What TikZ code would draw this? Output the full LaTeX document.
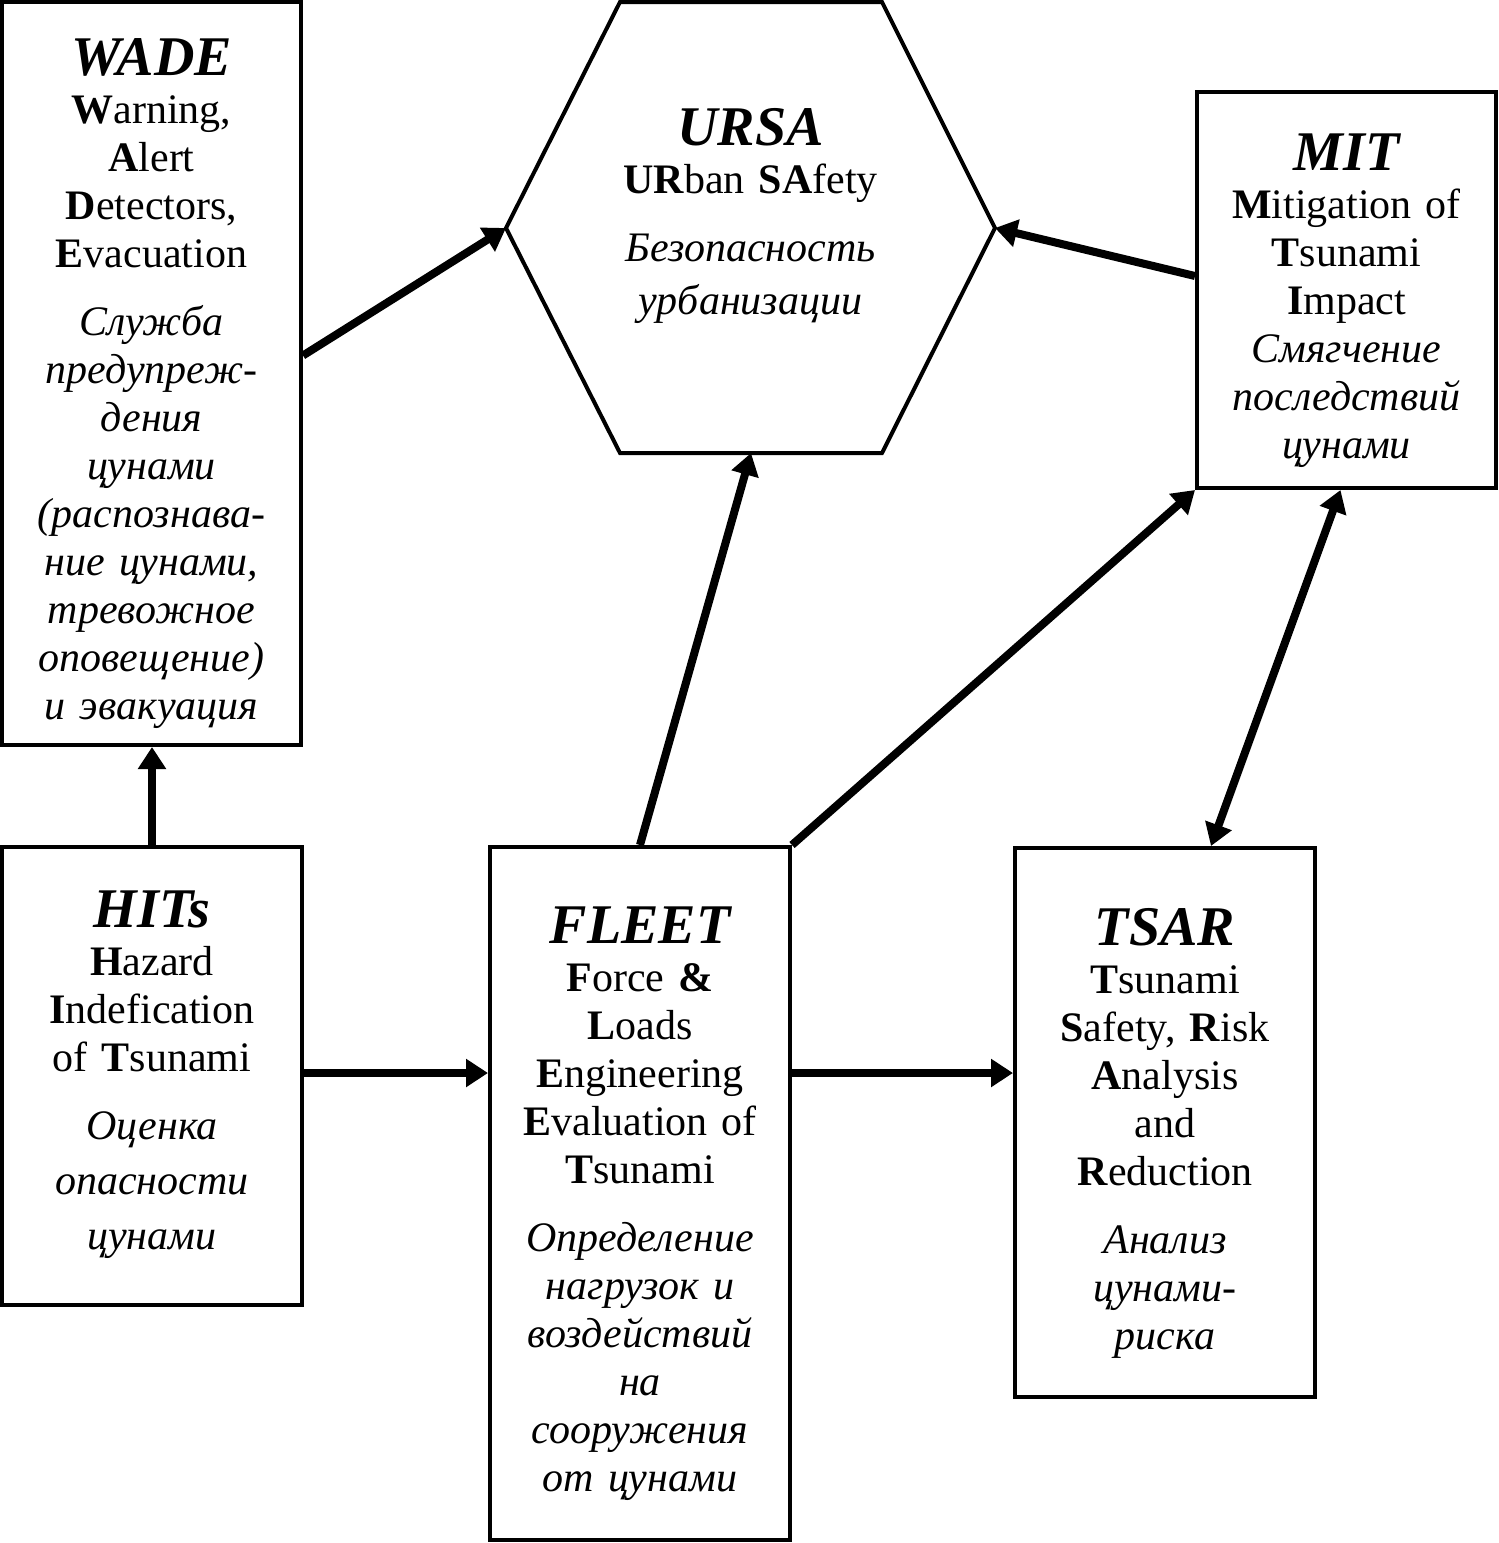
\documentclass[tikz,border=0pt]{standalone}
\usepackage{fontspec}
\setmainfont{Liberation Serif}
\usetikzlibrary{arrows.meta,calc}

\newcommand{\boxtitle}[1]{{\fontsize{28}{30}\selectfont\bfseries\itshape\rule{0pt}{29pt}#1}}

\tikzset{
	block/.style={draw, line width=2pt, align=center, text width=140pt, inner sep=0pt, font=\fontsize{21}{24}\selectfont},
	link/.style={line width=4pt, ->},
	twoway/.style={line width=4pt, <->},
	>={Triangle[length=11pt,width=13.5pt]}
}

\begin{document}
\begin{tikzpicture}[x=0.5pt, y=-0.5pt]
			\useasboundingbox (0,0) rectangle (1499,1543);

			% boxes
			\node[block, minimum width=149.5pt, minimum height=371.5pt](wade) at (151.5,373.5)
			{
				\boxtitle{WADE}\\
				\textbf{W}arning,\\
				\textbf{A}lert\\
				\textbf{D}etectors,\\
				\textbf{E}vacuation\\[10pt]
				\itshape Служба\\
				предупреж-\\
				дения\\
				цунами\\
				(распознава-\\
				ние цунами,\\
				тревожное\\
				оповещение)\\
				и эвакуация
			};
			\node[block, minimum width=150pt, minimum height=229pt](hits) at (152,1076)
			{
				\boxtitle{HITs}\\
				\textbf{H}azard\\
				\textbf{I}ndefication\\
				of \textbf{T}sunami\\[10pt]
				\itshape Оценка\\[3.5pt]
				опасности\\[3.5pt]
				цунами\rule[-17pt]{0pt}{17pt}
			};
			\node[block, minimum width=150pt, minimum height=346.5pt](fleet) at (640,1193.5)
			{
				\boxtitle{FLEET}\\
				\textbf{F}orce \textbf{\&}\\
				\textbf{L}oads\\
				\textbf{E}ngineering\\
				\textbf{E}valuation of\\
				\textbf{T}sunami\\[10pt]
				\itshape Определение\\
				нагрузок и\\
				воздействий\\
				на\\
				сооружения\\
				от цунами
			};
			\node[block, minimum width=150pt, minimum height=274.5pt](tsar) at (1165,1122.5)
			{
				\boxtitle{TSAR}\\
				\textbf{T}sunami\\
				\textbf{S}afety, \textbf{R}isk\\
				\textbf{A}nalysis\\
				and\\
				\textbf{R}eduction\\[10pt]
				\itshape Анализ\\
				цунами-\\
				риска
			};
			\node[block, minimum width=149.5pt, minimum height=198pt](mit) at (1346.5,290)
			{
				\boxtitle{MIT}\\
				\textbf{M}itigation of\\
				\textbf{T}sunami\\
				\textbf{I}mpact\\
				\itshape Смягчение\\
				последствий\\
				цунами
			};

			% hexagon
			\node[block, draw=none, text width=170pt](ursa) at (750.5,206)
			{
				\boxtitle{URSA}\\
				\textbf{UR}ban \textbf{SA}fety\\[10pt]
				\itshape Безопасность\\[2.5pt]
				урбанизации
			};
			\coordinate (hexL) at (506,228);
			\coordinate (hexR) at (995,228);
			\coordinate (hexB) at (751,453);
			\draw[line width=2pt] (hexL) -- (620,2) -- (882,2) -- (hexR) -- (882,453) -- (620,453) -- cycle;

			% arrows
			\coordinate (row) at (0,1073);
			\draw[link] (hits.north) -- (hits.north |- wade.south);
			\draw[link] ([yshift=9pt]wade.east) -- (hexL);
			\draw[link] ([yshift=7pt]mit.west) -- (hexR);
			\draw[link] (fleet.north) -- (hexB);
			\draw[link] (fleet.north east) -- (mit.south west);
			\draw[twoway] ([xshift=23pt]tsar.north) -- ([xshift=-3pt]mit.south);
			\draw[link] (hits.east |- row) -- (fleet.west |- row);
			\draw[link] (fleet.east |- row) -- (tsar.west |- row);
		\end{tikzpicture}
\end{document}
